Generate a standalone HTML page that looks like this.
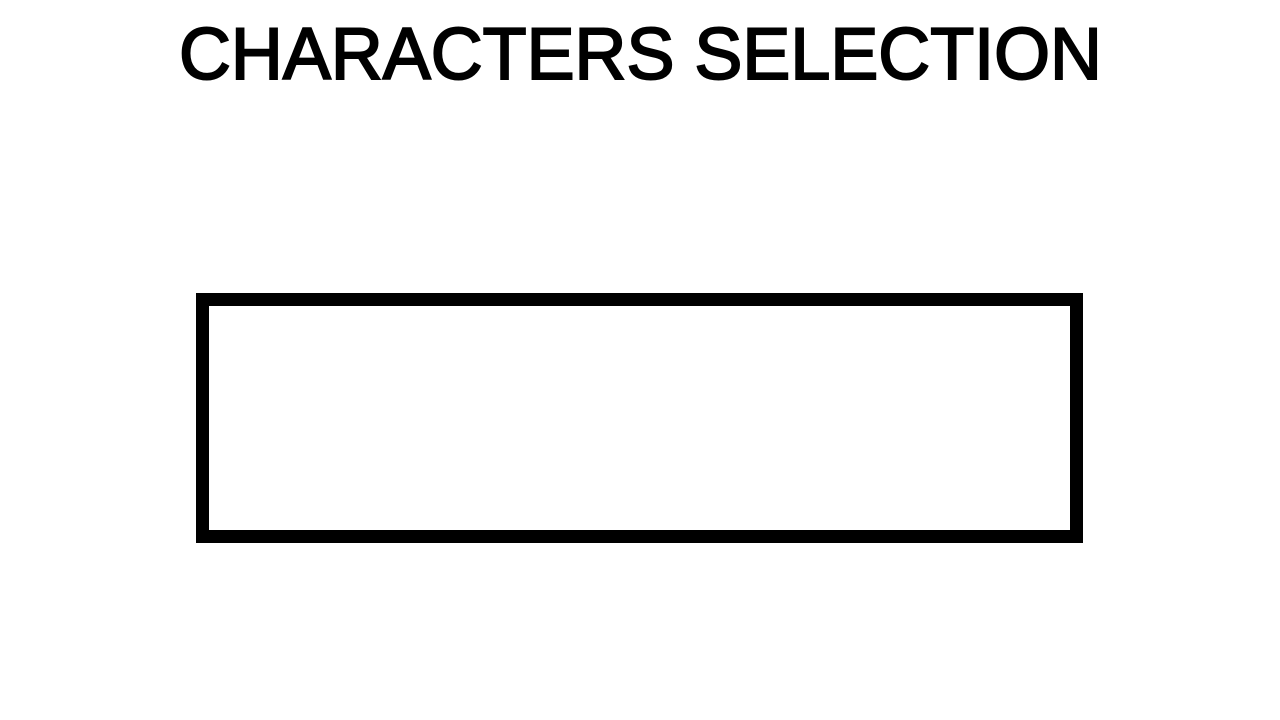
<!DOCTYPE html>
<html><head><meta charset="utf-8"><style>
html,body{margin:0;padding:0;background:#fff;width:1280px;height:720px;overflow:hidden}
.box{position:absolute;left:196px;top:293px;width:861px;height:224px;border:13px solid #000}
</style></head><body>
<svg width="1280" height="120" style="position:absolute;left:0;top:0">
<text x="179" y="79" font-family="Liberation Sans, sans-serif" font-size="73" textLength="923" lengthAdjust="spacingAndGlyphs" fill="#000" stroke="#000" stroke-width="2">CHARACTERS SELECTION</text>
</svg>
<div class="box"></div>
</body></html>
